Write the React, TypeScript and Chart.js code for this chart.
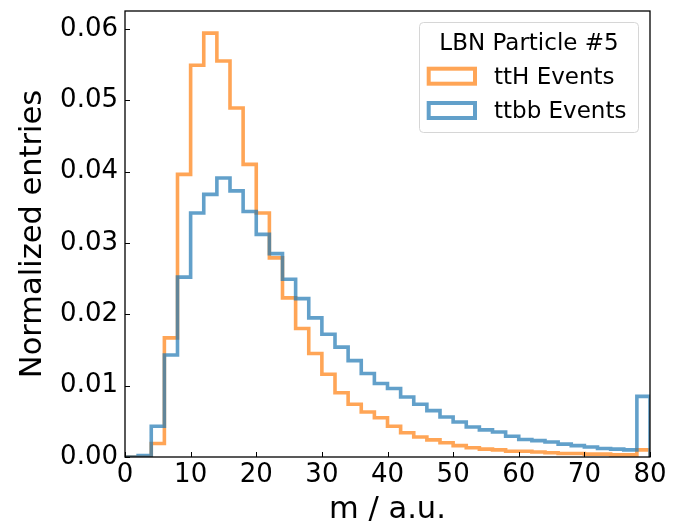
import React, { useEffect, useRef } from "react";
import { Chart, registerables } from "chart.js";

Chart.register(...registerables);

// Bin edges (width 2, from 0 to 80)
const binEdges: number[] = [
  0, 2, 4, 6, 8, 10, 12, 14, 16, 18, 20, 22, 24, 26, 28, 30, 32, 34, 36, 38,
  40, 42, 44, 46, 48, 50, 52, 54, 56, 58, 60, 62, 64, 66, 68, 70, 72, 74, 76, 78, 80,
];

const ttHValues: number[] = [
  0, 0, 0.0019, 0.0167, 0.0396, 0.0549, 0.0594, 0.0555, 0.0489, 0.041,
  0.0342, 0.0279, 0.0223, 0.018, 0.0145, 0.0116, 0.009, 0.0074, 0.0063, 0.0055,
  0.0043, 0.0034, 0.0028, 0.0024, 0.002, 0.0016, 0.0013, 0.0011, 0.001, 0.0008,
  0.0008, 0.0007, 0.0006, 0.0005, 0.0005, 0.0004, 0.0004, 0.0003, 0.0003, 0.001,
];

const ttbbValues: number[] = [
  0, 0.0002, 0.0043, 0.0143, 0.0252, 0.0342, 0.0368, 0.0391, 0.0373, 0.0344,
  0.0312, 0.0285, 0.0249, 0.0222, 0.0195, 0.0172, 0.0154, 0.0135, 0.0117, 0.0103,
  0.0096, 0.0084, 0.0074, 0.0065, 0.0056, 0.0049, 0.0042, 0.0038, 0.0035, 0.0029,
  0.00245, 0.0023, 0.0021, 0.0018, 0.0016, 0.0014, 0.0012, 0.0011, 0.001, 0.0085,
];

const xTickValues: number[] = [0, 10, 20, 30, 40, 50, 60, 70, 80];
const yTickValues: number[] = [0, 0.01, 0.02, 0.03, 0.04, 0.05, 0.06];

const seriesLabels: string[] = ["ttH Events", "ttbb Events"];
const legendTitle = "LBN Particle #5";
const xTitle = "m / a.u.";
const yTitle = "Normalized entries";

const FONT = "'DejaVu Sans', sans-serif";
const ORANGE = "rgba(255,127,14,0.7)";
const BLUE = "rgba(31,119,180,0.7)";

function toStepPoints(values: number[]) {
  const pts = values.map((v, i) => ({ x: binEdges[i], y: v }));
  pts.push({ x: binEdges[binEdges.length - 1], y: 0 });
  return pts;
}

const framePlugin = {
  id: "frameTicks",
  afterDatasetsDraw(chart: any) {
    const { ctx, chartArea, scales } = chart;
    const { left, right, top, bottom } = chartArea;
    ctx.save();
    ctx.strokeStyle = "#000";
    ctx.lineWidth = 1;
    ctx.beginPath();
    for (const v of xTickValues) {
      const px = Math.round(scales.x.getPixelForValue(v)) + 0.5;
      ctx.moveTo(px, bottom);
      ctx.lineTo(px, bottom - 5);
    }
    for (const v of yTickValues) {
      const py = Math.round(scales.y.getPixelForValue(v)) + 0.5;
      ctx.moveTo(left, py);
      ctx.lineTo(left + 5, py);
    }
    ctx.stroke();
    ctx.lineWidth = 1.3;
    ctx.strokeRect(left, top, right - left, bottom - top);
    ctx.restore();
  },
};

const legendPlugin = {
  id: "customLegend",
  afterDraw(chart: any) {
    const { ctx } = chart;
    const bx = 419.5, by = 22.5, bw = 219, bh = 110;
    ctx.save();
    ctx.beginPath();
    ctx.roundRect(bx, by, bw, bh, 4);
    ctx.fillStyle = "rgba(255,255,255,0.8)";
    ctx.fill();
    ctx.strokeStyle = "#d6d6d6";
    ctx.lineWidth = 1;
    ctx.stroke();

    ctx.fillStyle = "#000";
    ctx.font = `23px ${FONT}`;
    ctx.textAlign = "center";
    ctx.textBaseline = "alphabetic";
    ctx.fillText(legendTitle, bx + bw / 2, 50);

    const colors = [ORANGE, BLUE];
    const baselines = [83.5, 118];
    const rectTops = [68.7, 103];
    for (let i = 0; i < seriesLabels.length; i++) {
      ctx.fillStyle = "#fff";
      ctx.fillRect(428.7, rectTops[i], 46.3, 15);
      ctx.strokeStyle = colors[i];
      ctx.lineWidth = 4;
      ctx.strokeRect(428.7, rectTops[i], 46.3, 15);
      ctx.fillStyle = "#000";
      ctx.textAlign = "left";
      ctx.fillText(seriesLabels[i], 494, baselines[i]);
    }
    ctx.restore();
  },
};

export default function App() {
  const canvasRef = useRef<HTMLCanvasElement | null>(null);

  useEffect(() => {
    if (!canvasRef.current) return;
    Chart.defaults.color = "#000";
    const chart = new Chart(canvasRef.current, {
      type: "line",
      data: {
        datasets: [
          {
            label: seriesLabels[0],
            data: toStepPoints(ttHValues),
            borderColor: ORANGE,
            borderWidth: 3.6,
            pointRadius: 0,
            stepped: "before",
            fill: false,
            clip: 0,
            order: 1,
          },
          {
            label: seriesLabels[1],
            data: toStepPoints(ttbbValues),
            borderColor: BLUE,
            borderWidth: 3.6,
            pointRadius: 0,
            stepped: "before",
            fill: false,
            clip: 0,
            order: 0,
          },
        ],
      },
      options: {
        animation: false,
        responsive: false,
        devicePixelRatio: 1,
        parsing: false,
        layout: { padding: { top: 11, right: 28, left: 0, bottom: 0 } },
        plugins: {
          legend: { display: false },
          tooltip: { enabled: false },
        },
        scales: {
          x: {
            type: "linear",
            min: 0,
            max: 80,
            grid: { display: false, drawTicks: false },
            border: { display: false },
            afterBuildTicks: (s: any) => {
              s.ticks = xTickValues.map((value) => ({ value }));
            },
            afterFit: (s: any) => {
              s.height = 75;
              s.paddingLeft = 0;
              s.paddingRight = 0;
            },
            ticks: {
              font: { family: FONT, size: 26 },
              color: "#000",
              padding: 3,
              maxRotation: 0,
              autoSkip: false,
              callback: (v: any) => String(v),
            },
            title: {
              display: true,
              text: xTitle,
              font: { family: FONT, size: 30.5 },
              color: "#000",
              padding: { top: 0, bottom: 4 },
            },
          },
          y: {
            type: "linear",
            min: 0,
            max: 0.0625,
            grid: { display: false, drawTicks: false },
            border: { display: false },
            afterBuildTicks: (s: any) => {
              s.ticks = yTickValues.map((value) => ({ value }));
            },
            afterFit: (s: any) => {
              s.width = 125;
              s.paddingTop = 0;
              s.paddingBottom = 0;
            },
            ticks: {
              font: { family: FONT, size: 26 },
              color: "#000",
              padding: 7,
              autoSkip: false,
              callback: (v: any) => Number(v).toFixed(2),
            },
            title: {
              display: true,
              text: yTitle,
              font: { family: FONT, size: 30.5 },
              color: "#000",
              padding: { top: 15, bottom: 0 },
            },
          },
        },
      },
      plugins: [framePlugin, legendPlugin],
    } as any);
    return () => chart.destroy();
  }, []);

  return (
    <div style={{ position: "absolute", left: 0, top: 0, width: 678, height: 532, background: "#fff" }}>
      <canvas ref={canvasRef} width={678} height={532} style={{ width: 678, height: 532 }} />
    </div>
  );
}
